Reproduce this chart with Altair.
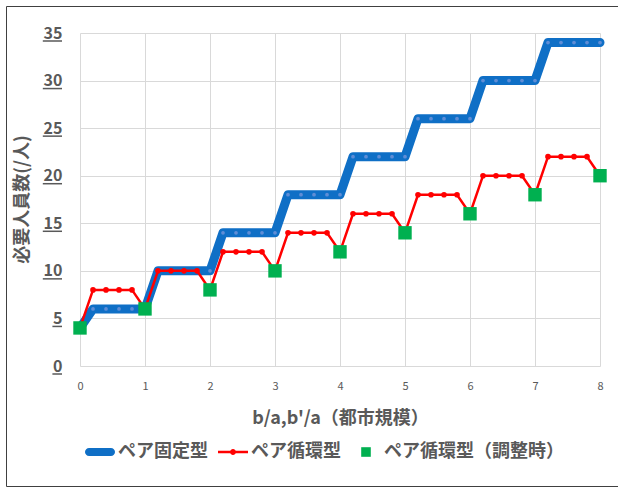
import altair as alt
import pandas as pd

# ---- data ----
x_vals = [0.0, 0.2, 0.4, 0.6, 0.8, 1.0, 1.2, 1.4, 1.6, 1.8, 2.0,
          2.2, 2.4, 2.6, 2.8, 3.0, 3.2, 3.4, 3.6, 3.8, 4.0,
          4.2, 4.4, 4.6, 4.8, 5.0, 5.2, 5.4, 5.6, 5.8, 6.0,
          6.2, 6.4, 6.6, 6.8, 7.0, 7.2, 7.4, 7.6, 7.8, 8.0]
fixed_vals = [4, 6, 6, 6, 6, 6, 10, 10, 10, 10, 10,
              14, 14, 14, 14, 14, 18, 18, 18, 18, 18,
              22, 22, 22, 22, 22, 26, 26, 26, 26, 26,
              30, 30, 30, 30, 30, 34, 34, 34, 34, 34]
cyclic_vals = [4, 8, 8, 8, 8, 6, 10, 10, 10, 10, 8,
               12, 12, 12, 12, 10, 14, 14, 14, 14, 12,
               16, 16, 16, 16, 14, 18, 18, 18, 18, 16,
               20, 20, 20, 20, 18, 22, 22, 22, 22, 20]
adj_x = [0, 1, 2, 3, 4, 5, 6, 7, 8]
adj_vals = [4, 6, 8, 10, 12, 14, 16, 18, 20]

series_names = ["ペア固定型", "ペア循環型", "ペア循環型（調整時）"]
series_colors = ["#0F6FC6", "#FF0000", "#00B050"]
y_ticks = [0, 5, 10, 15, 20, 25, 30, 35]
x_ticks = [0, 1, 2, 3, 4, 5, 6, 7, 8]

FONT = "Noto Sans CJK JP"
TEXT = "#595959"
GRID = "#D9D9D9"

line_df = pd.DataFrame({"x": x_vals, "fixed": fixed_vals, "cyclic": cyclic_vals})
adj_df = pd.DataFrame({"x": adj_x, "y": adj_vals})
legend_df = pd.DataFrame({"series": series_names,
                          "x": [adj_x[0]] * 3, "y": [adj_vals[0]] * 3})
tick_df = pd.DataFrame({"v": y_ticks})
frame_df = pd.DataFrame({"k": [0]})

x_scale = alt.Scale(domain=[0, 8], nice=False)
y_scale = alt.Scale(domain=[0, 35], nice=False)

x_axis = alt.Axis(values=x_ticks, title="b/a,b'/a（都市規模）", grid=True,
                  gridColor=GRID, domain=False, ticks=False, labelFlush=False,
                  labelFont=FONT, labelFontSize=11, labelColor=TEXT,
                  labelPadding=14, titleFont=FONT, titleFontSize=18,
                  titleFontWeight="bold", titleColor=TEXT, titleY=57,
                  titleBaseline="alphabetic")
y_axis = alt.Axis(values=y_ticks, title="必要人員数(/人)", grid=True,
                  gridColor=GRID, domain=False, ticks=False,
                  labelFont=FONT, labelFontSize=16, labelFontWeight="bold",
                  labelColor=TEXT, labelPadding=18,
                  titleFont=FONT, titleFontSize=18, titleFontWeight="bold",
                  titleColor=TEXT, titleX=-58, titleY=166, titleAlign="center",
                  titleBaseline="middle")


def X(field):
    return alt.X(field, scale=x_scale, axis=x_axis, title="b/a,b'/a（都市規模）")


def Y(field):
    return alt.Y(field, scale=y_scale, axis=y_axis, title="必要人員数(/人)")


base = alt.Chart(line_df)

fixed_line = base.mark_line(color=series_colors[0], strokeWidth=9,
                            strokeCap="round", strokeJoin="round").encode(
    x=X("x:Q"), y=Y("fixed:Q"),
)
fixed_dots = base.mark_circle(color="#5F8DD6", size=14, opacity=1).encode(
    x=X("x:Q"), y=Y("fixed:Q"),
)
cyc_line = base.mark_line(color=series_colors[1], strokeWidth=2.5).encode(
    x=X("x:Q"), y=Y("cyclic:Q"),
)
cyc_dots = base.mark_circle(color=series_colors[1], size=32, opacity=1).encode(
    x=X("x:Q"), y=Y("cyclic:Q"),
)

path_blue = ("M-0.73,-0.27 H0.73 A0.27,0.27 0 0 1 0.73,0.27 H-0.73 "
             "A0.27,0.27 0 0 1 -0.73,-0.27 Z")
path_red = ("M-1,-0.085 H1 V0.085 H-1 Z "
            "M-0.2,0 A0.2,0.2 0 1 1 0.2,0 A0.2,0.2 0 1 1 -0.2,0 Z")
path_green = "M-0.32,-0.32 H0.32 V0.32 H-0.32 Z"

legend_layer = alt.Chart(legend_df).mark_point(filled=True, size=20, opacity=1).encode(
    x=X("x:Q"), y=Y("y:Q"),
    color=alt.Color("series:N",
                    scale=alt.Scale(domain=series_names, range=series_colors),
                    legend=alt.Legend(title=None)),
    shape=alt.Shape("series:N",
                    scale=alt.Scale(domain=series_names,
                                    range=[path_blue, path_red, path_green]),
                    legend=alt.Legend(title=None)),
)

adj_pts = alt.Chart(adj_df).mark_square(color=series_colors[2], size=180, opacity=1).encode(
    x=X("x:Q"), y=Y("y:Q"),
)

# underline under the y-axis tick labels (width follows the number of digits)
underline = alt.Chart(tick_df).transform_calculate(
    ux="-18 - 9.6 * length(toString(datum.v))"
).mark_rule(color=TEXT, strokeWidth=1.5, yOffset=8).encode(
    x=alt.X("ux:Q", scale=None),
    x2=alt.value(-18),
    y=Y("v:Q"),
)

frame = alt.Chart(frame_df).mark_rect(fillOpacity=0, stroke="#404040", strokeWidth=1).encode(
    x=alt.value(-73.5), x2=alt.value(545), y=alt.value(-26.5), y2=alt.value(453.5)
)

chart = alt.layer(
    fixed_line, fixed_dots, cyc_line, cyc_dots, legend_layer, adj_pts,
    underline, frame
).properties(
    width=520, height=333,
    autosize=alt.AutoSizeParams(type="none"),
    padding={"left": 80, "top": 33, "right": 18, "bottom": 122},
    background="white",
).configure_view(
    strokeOpacity=0
).configure_legend(
    orient="none", legendX=5, legendY=404, direction="horizontal",
    padding=0, symbolSize=900, symbolStrokeWidth=0, symbolOpacity=1,
    labelFont=FONT, labelFontSize=18, labelFontWeight="bold",
    labelColor=TEXT, labelOffset=3, labelLimit=400, columnPadding=10,
)

chart.save("out.html", embed_options={"renderer": "svg", "actions": False})
